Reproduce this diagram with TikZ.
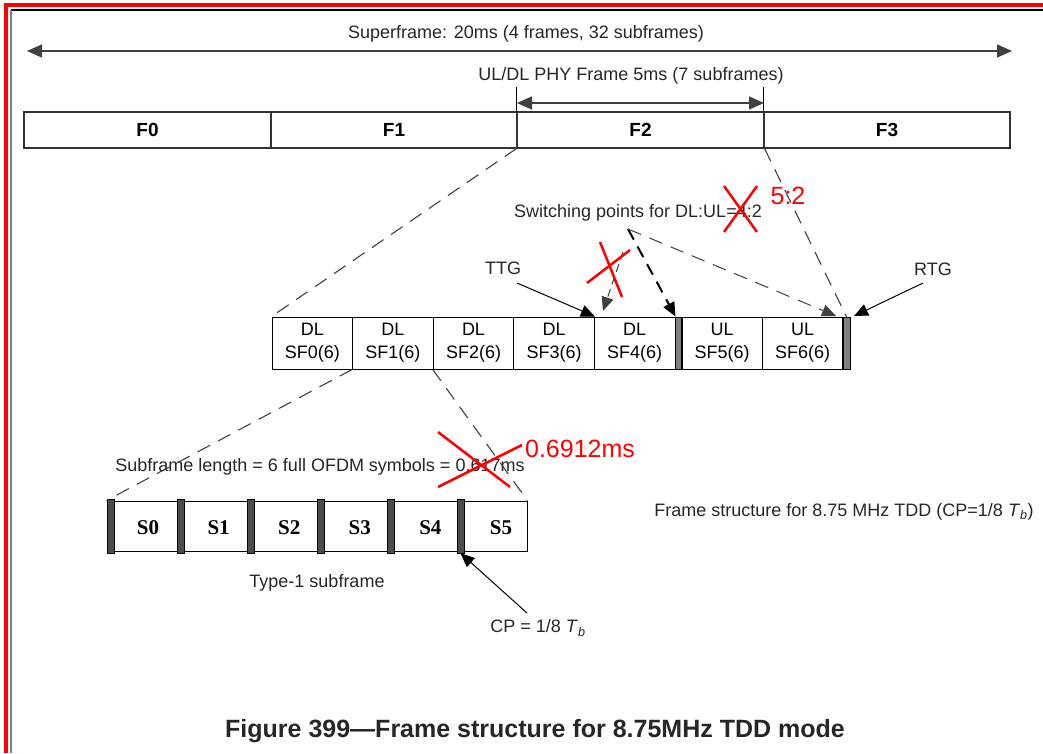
\documentclass[tikz,border=0pt]{standalone}
\usepackage{fontspec}
\setmainfont{Liberation Sans}
\newfontfamily\timesfont{Liberation Serif}
\usetikzlibrary{arrows.meta,positioning}

\begin{document}
\begin{tikzpicture}[x=1pt,y=-1pt,
  txt/.style={font=\fontsize{18}{21}\selectfont, text=black!85, inner sep=0pt},
  frm/.style={draw=black!80, line width=1.3pt, minimum height=36pt, inner sep=0pt, font=\fontsize{19}{22}\selectfont\bfseries},
  sfbox/.style={draw, line width=1pt, minimum width=80.6pt, minimum height=52pt, inner sep=0pt, align=center, font=\fontsize{18}{23}\selectfont},
  gapbar/.style={draw, fill=gray, minimum width=7pt, minimum height=52pt, inner sep=0pt},
  cell/.style={draw, line width=1pt, minimum width=70pt, minimum height=50pt, inner sep=0pt},
  cpbar/.style={draw, fill=black!70, minimum width=6.5pt, minimum height=54pt, inner sep=0pt},
  slab/.style={font=\timesfont\bfseries\fontsize{21}{23}\selectfont, inner sep=0pt},
  dashline/.style={dash pattern=on 14pt off 9pt, line width=1.1pt, draw=black!75},
  dim/.style={{Triangle[length=15pt,width=13pt]}-{Triangle[length=15pt,width=13pt]}, line width=1.4pt, draw=black!75},
  pointer/.style={-{Triangle[length=14pt,width=12pt]}, line width=1pt},
  fix/.style={red, line width=2.5pt},
  fixtxt/.style={text=red, font=\fontsize{25}{28}\selectfont, inner sep=0pt}
]
\useasboundingbox (0,0) rectangle (1043,753);
\fill[red] (4,3) rectangle (1043,7);
\fill[red] (4,3) rectangle (8,753);
\draw[line width=1.3pt] (11,10) -- (1043,10);
\draw[gray, line width=2pt] (11,10) -- (11,753);

\node[txt] (super) at (526,34) {Superframe: 20ms (4 frames, 32 subframes)};
\coordinate (supL) at (27,51);
\coordinate (supR) at (1012,51);
\draw[dim] (supL) -- (supR);

\foreach \n/\x/\w in {0/147.5/247,1/394/246,2/640.5/247,3/887/246}
  \node[frm, minimum width=\w pt] (F\n) at (\x,130) {F\n};

\node[txt] (phy) at (631,76) {UL/DL PHY Frame 5ms (7 subframes)};
\draw[line width=1pt] (F2.north west) -- ++(0,-24) coordinate (t2);
\draw[line width=1pt] (F3.north west) -- ++(0,-24) coordinate (t3);
\coordinate (phL) at (517,103);
\coordinate (phR) at (764,103);
\draw[dim] (phL) -- (phR);

\foreach \i in {0,...,4}
  \node[sfbox] (SF\i) at ({312.3+80.6*\i},343) {DL\\SF\i(6)};
\node[gapbar] (gap1) at (678.5,343) {};
\foreach \i/\x in {5/722,6/802.5}
  \node[sfbox] (SF\i) at (\x,343) {UL\\SF\i(6)};
\node[gapbar] (gap2) at (846.5,343) {};

\draw[dashline] (F2.south west) -- (SF0.north west);
\draw[dashline] (F2.south east) -- (gap2.north);

\node[txt] (swp) at (638,213) {Switching points for DL:UL=4:2};
\coordinate (swA) at (628,229);
\coordinate (swB) at (623,252);
\coordinate (swC) at (603,311);
\coordinate (swD) at (836,316);
\draw[dashline, pointer, line width=2pt, draw=black, dash pattern=on 12pt off 8pt] (swA) -- (SF4.north east);
\draw[dashline, pointer] (swA) -- (swD);
\draw[dashline, pointer, dash pattern=on 8pt off 5pt] (swB) -- (swC);

\node[txt] (ttg) at (503,268) {TTG};
\node[txt] (rtg) at (933,269) {RTG};
\coordinate (ttgA) at (517,283);
\coordinate (rtgA) at (923,283);
\coordinate (rtgB) at (854,316);
\draw[pointer] (ttgA) -- (SF3.north east);
\draw[pointer] (rtgA) -- (rtgB);

\draw[fix] (724,186) -- (757,232);
\draw[fix] (757,186) -- (724,232);
\node[fixtxt] (ratio) at (788,196) {5:2};
\draw[fix] (600,242) -- (622,297);
\draw[fix] (630,250) -- (587,283);

\node[txt] (sflen) at (320,467) {Subframe length = 6 full OFDM symbols = 0.617ms};
\foreach \i in {0,...,5} {
  \node[cell] (C\i) at ({142+70*\i},526) {};
  \node[cpbar] (B\i) at ({110.5+70*\i},526) {};
  \node[slab] (S\i) at ({148+70.6*\i},528) {S\i};
}
\draw[dashline] (SF1.south west) -- (C0.north west);
\draw[dashline] (SF2.south west) -- (C5.north east);
\draw[fix] (438,432) -- (510,487);
\draw[fix] (438,487) -- (522,445);
\node[fixtxt] (newlen) at (580,449) {0.6912ms};

\node[txt] (type1) at (317,583) {Type-1 subframe};
\node[txt] (cp) at (538,628) {CP = 1/8 \textit{T}\textsubscript{\textit{b}}};
\coordinate (cpA) at (527,613);
\draw[pointer] (cpA) -- (B5.south);
\node[txt] (note) at (844,512) {Frame structure for 8.75 MHz TDD (CP=1/8 \textit{T}\textsubscript{\textit{b}})};
\node[txt, font=\fontsize{25}{29}\selectfont\bfseries] (cap) at (535,731) {Figure 399---Frame structure for 8.75MHz TDD mode};
\end{tikzpicture}
\end{document}
